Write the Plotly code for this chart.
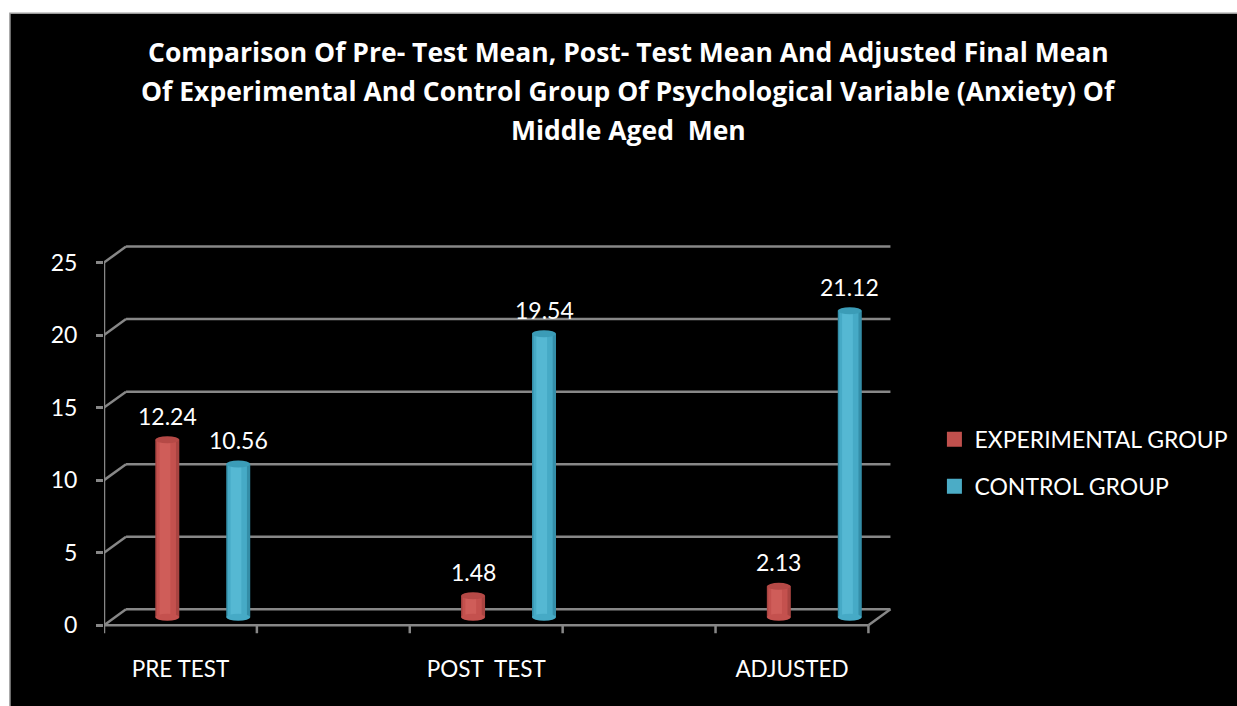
import plotly.graph_objects as go

# ---- data -------------------------------------------------------------
categories = ["PRE TEST", "POST  TEST", "ADJUSTED"]
series_names = ["EXPERIMENTAL GROUP", "CONTROL GROUP"]
experimental = [12.24, 1.48, 2.13]
control = [10.56, 19.54, 21.12]
y_ticks = [0, 5, 10, 15, 20, 25]

title_lines = [
    "Comparison Of Pre- Test Mean, Post- Test Mean And Adjusted Final Mean",
    "Of Experimental And Control Group Of Psychological Variable (Anxiety) Of",
    "Middle Aged  Men",
]

# ---- styling / geometry ----------------------------------------------
FONT = "Lato"
TITLE_FONT = "Open Sans"
GRID = "#878787"
RED = ["#a94441", "#c4514e", "#cf5d59"]      # edge, body, highlight
BLUE = ["#348ea8", "#46aac6", "#55b8d3"]
RED_TOP = "#b54946"
BLUE_TOP = "#3b9cb7"
LEGEND_COLORS = ["#c0504d", "#4bacc6"]

# plot-area pixel frame (used to place paper-referenced items)
L, R, T, B = 104, 338.4, 219, 58.7
W_PX, H_PX = 1237 - L - R, 706 - T - B

def px_x(p):
    return (p - L) / W_PX

def px_y(p):
    return (706 - B - p) / H_PX

cat_centers = [0.5, 2.5, 4.5]        # categories sit in every other slot
slot_edges = [0, 1, 2, 3, 4, 5]
series_offset = [-0.158, 0.306]      # position inside a category (front plane)
DEPTH_X, DEPTH_Y = 0.144, 1.10       # back-wall offset in axis units
bar_w = 0.157
bar_base = DEPTH_Y / 2               # bars stand at mid depth

fig = go.Figure()

# black chart background
fig.add_shape(type="rect", xref="paper", yref="paper", x0=px_x(10), x1=px_x(1245),
              y0=px_y(720), y1=px_y(13), fillcolor="black",
              line=dict(width=1.5, color="#9a9a9a"), layer="below")

series = [(experimental, RED, RED_TOP), (control, BLUE, BLUE_TOP)]
for si, (vals, cols, top_col) in enumerate(series):
    xs = [c + series_offset[si] + DEPTH_X / 2 for c in cat_centers]
    # cylinder body: dark edge, body, highlight strip
    fig.add_trace(go.Bar(x=xs, y=vals, base=bar_base, width=bar_w,
                         marker=dict(color=cols[0], line=dict(width=0)),
                         name=series_names[si], showlegend=False, hoverinfo="skip"))
    fig.add_trace(go.Bar(x=[x - 0.006 for x in xs], y=vals, base=bar_base, width=bar_w * 0.8,
                         marker=dict(color=cols[1], line=dict(width=0)),
                         showlegend=False, hoverinfo="skip"))
    fig.add_trace(go.Bar(x=[x - 0.015 for x in xs], y=vals, base=bar_base, width=bar_w * 0.45,
                         marker=dict(color=cols[2], line=dict(width=0)),
                         showlegend=False, hoverinfo="skip"))
    # legend entry with a square swatch
    fig.add_trace(go.Scatter(x=[None], y=[None], mode="markers", name=series_names[si],
                             legendgroup=series_names[si],
                             marker=dict(symbol="square", size=15, color=LEGEND_COLORS[si])))
    for x, v in zip(xs, vals):
        # rounded bottom and elliptical cap
        fig.add_shape(type="circle", xref="x", yref="y", x0=x - bar_w / 2, x1=x + bar_w / 2,
                      ysizemode="pixel", yanchor=bar_base, y0=-3.5, y1=3.5,
                      fillcolor=cols[1], line=dict(width=0))
        fig.add_shape(type="circle", xref="x", yref="y", x0=x - bar_w / 2, x1=x + bar_w / 2,
                      ysizemode="pixel", yanchor=bar_base + v, y0=-3.5, y1=3.5,
                      fillcolor=top_col, line=dict(width=0))
        fig.add_annotation(x=x, y=bar_base + v, text=f"{v:.2f}", showarrow=False,
                           yshift=24, font=dict(family=FONT, size=23, color="white"))

# back-wall gridlines and their perspective connectors
for t in y_ticks:
    fig.add_shape(type="line", xref="x", yref="y", x0=DEPTH_X, x1=5 + DEPTH_X,
                  y0=t + DEPTH_Y, y1=t + DEPTH_Y, line=dict(color=GRID, width=2.5), layer="below")
    fig.add_shape(type="line", xref="x", yref="y", x0=0, x1=DEPTH_X,
                  y0=t, y1=t + DEPTH_Y, line=dict(color=GRID, width=2.5), layer="below")
# floor front edge, right edge and front vertical axis
fig.add_shape(type="line", xref="x", yref="y", x0=0, x1=5, y0=0, y1=0,
              line=dict(color=GRID, width=2.5))
fig.add_shape(type="line", xref="x", yref="y", x0=5, x1=5 + DEPTH_X, y0=0, y1=DEPTH_Y,
              line=dict(color=GRID, width=2.5))
fig.add_shape(type="line", xref="x", yref="y", x0=0, x1=0, y0=0, y1=max(y_ticks),
              line=dict(color=GRID, width=2.5))
for e in slot_edges:
    fig.add_shape(type="line", xref="x", yref="y", x0=e, x1=e,
                  ysizemode="pixel", yanchor=0, y0=0, y1=-8,
                  line=dict(color=GRID, width=2.5))

# title lines
for i, line in enumerate(title_lines):
    fig.add_annotation(xref="paper", yref="paper", x=px_x(628), y=px_y(52 + 39 * i),
                       text=f"<b>{line}</b>", showarrow=False,
                       xanchor="center", yanchor="middle",
                       font=dict(family=TITLE_FONT, size=26.5, color="white"))

fig.update_layout(
    width=1237, height=706,
    margin=dict(l=L, r=R, t=T, b=B, autoexpand=False),
    paper_bgcolor="white", plot_bgcolor="rgba(0,0,0,0)",
    barmode="overlay", showlegend=True,
    font=dict(family=FONT, color="white"),
    legend=dict(x=px_x(934), y=px_y(463), xanchor="left", yanchor="middle",
                font=dict(family=FONT, size=23, color="white"),
                tracegroupgap=14, bgcolor="rgba(0,0,0,0)", itemwidth=30),
    xaxis=dict(range=[0, 5.2], tickvals=cat_centers, ticktext=categories,
               ticks="", showgrid=False, zeroline=False, showline=False,
               tickfont=dict(family=FONT, size=22.5, color="white"), ticklabelstandoff=6),
    yaxis=dict(range=[-1.5, 28], tickvals=y_ticks, ticks="outside", ticklen=7,
               tickwidth=2.5, tickcolor=GRID, showgrid=False, zeroline=False,
               showline=False, tickfont=dict(family=FONT, size=23, color="white"),
               ticklabelstandoff=14),
)

fig.write_html("out.html")
